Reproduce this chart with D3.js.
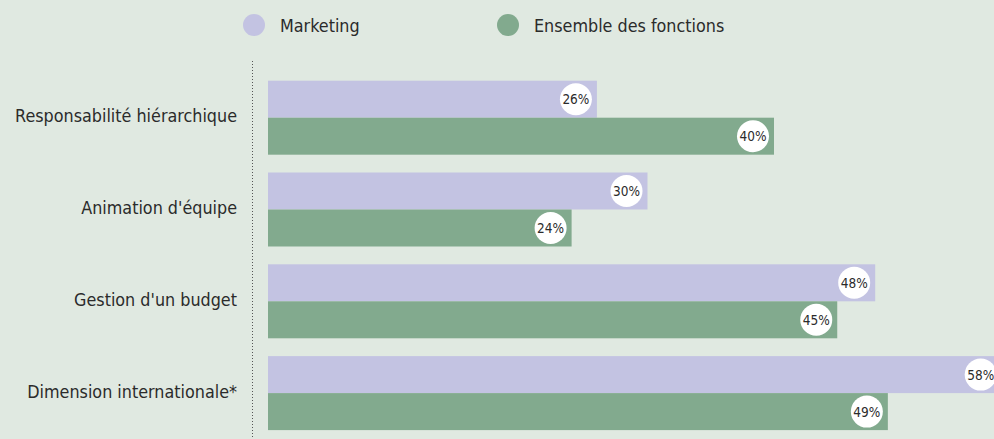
<!DOCTYPE html>
<html>
<head>
<meta charset="utf-8">
<script src="https://cdn.jsdelivr.net/npm/d3@7"></script>
<style>
  html, body { margin: 0; padding: 0; background: #e0e9e1; }
  svg { display: block; font-family: "DejaVu Sans Condensed", "DejaVu Sans", sans-serif; }
</style>
</head>
<body>
<div id="chart"></div>
<script>
// Data.
var categories = ["Responsabilité hiérarchique", "Animation d'équipe", "Gestion d'un budget", "Dimension internationale*"];
var seriesNames = ["Marketing", "Ensemble des fonctions"];
var marketing = [26, 30, 48, 58];
var ensemble  = [40, 24, 45, 49];

var width = 994, height = 439;
var colors = ["#c3c3e2", "#82aa8e"];

var svg = d3.select("#chart").append("svg")
    .attr("width", width)
    .attr("height", height);

svg.append("rect")
    .attr("width", width)
    .attr("height", height)
    .attr("fill", "#e0e9e1");

// Scales
var x = d3.scaleLinear()
    .domain([0, 60])
    .range([268, 268 + 759]);

var y = d3.scaleBand()
    .domain(categories)
    .range([80.7, 430.1])
    .paddingInner(0.194)
    .paddingOuter(0);

var ySub = d3.scaleBand()
    .domain(seriesNames)
    .range([0, y.bandwidth()]);

// Dotted axis line
svg.append("line")
    .attr("x1", 252.5).attr("x2", 252.5)
    .attr("y1", 61).attr("y2", height)
    .attr("stroke", "#555")
    .attr("stroke-width", 1)
    .attr("stroke-dasharray", "1,2");

// Category labels
svg.selectAll(".cat")
    .data(categories)
  .enter().append("text")
    .attr("class", "cat")
    .attr("x", 237)
    .attr("y", function(d) { return y(d) + y.bandwidth() / 2 - 0.5; })
    .attr("text-anchor", "end")
    .attr("dominant-baseline", "middle")
    .attr("font-size", 17.8)
    .attr("fill", "#2b2b2b")
    .text(function(d) { return d; });

// Bars
var rows = [];
categories.forEach(function(c, i) {
  rows.push({cat: c, series: seriesNames[0], value: marketing[i], color: colors[0]});
  rows.push({cat: c, series: seriesNames[1], value: ensemble[i], color: colors[1]});
});

var g = svg.selectAll(".bar")
    .data(rows)
  .enter().append("g")
    .attr("class", "bar");

g.append("rect")
    .attr("x", x(0))
    .attr("y", function(d) { return y(d.cat) + ySub(d.series); })
    .attr("width", function(d) { return x(d.value) - x(0); })
    .attr("height", ySub.bandwidth())
    .attr("fill", function(d) { return d.color; });

g.append("circle")
    .attr("cx", function(d) { return x(d.value) - 21; })
    .attr("cy", function(d) { return y(d.cat) + ySub(d.series) + ySub.bandwidth() / 2; })
    .attr("r", 16)
    .attr("fill", "#fff");

g.append("text")
    .attr("x", function(d) { return x(d.value) - 21; })
    .attr("y", function(d) { return y(d.cat) + ySub(d.series) + ySub.bandwidth() / 2; })
    .attr("text-anchor", "middle")
    .attr("dominant-baseline", "central")
    .attr("font-size", 13.5)
    .attr("fill", "#2b2b2b")
    .text(function(d) { return d.value + "%"; });

// Legend
var legendX = [254, 508];
var legend = svg.selectAll(".legend")
    .data(seriesNames)
  .enter().append("g")
    .attr("class", "legend")
    .attr("transform", function(d, i) { return "translate(" + legendX[i] + ",25)"; });

legend.append("circle")
    .attr("r", 11)
    .attr("fill", function(d, i) { return colors[i]; });

legend.append("text")
    .attr("x", 26)
    .attr("dominant-baseline", "central")
    .attr("font-size", 17.8)
    .attr("fill", "#2b2b2b")
    .text(function(d) { return d; });
</script>
</body>
</html>
